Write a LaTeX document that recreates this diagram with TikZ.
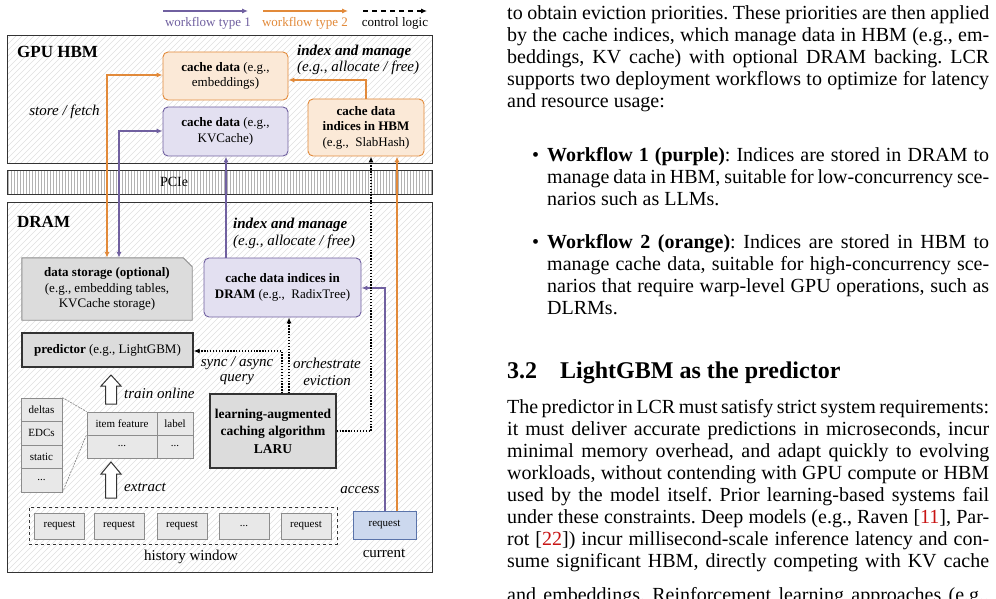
\documentclass[tikz,border=0pt]{standalone}
\usepackage{fontspec}
\setmainfont{Liberation Serif}
\usetikzlibrary{arrows.meta,calc}
\definecolor{purp}{RGB}{112,96,160}
\definecolor{purpL}{RGB}{227,224,241}
\definecolor{orng}{RGB}{226,138,58}
\definecolor{orngL}{RGB}{251,233,215}
\definecolor{greyF}{RGB}{220,220,220}
\definecolor{cellF}{RGB}{232,232,232}
\definecolor{curF}{RGB}{204,216,238}
\definecolor{curD}{RGB}{90,115,170}
\definecolor{citeC}{RGB}{200,20,20}
\newcommand\fsBox{\fontsize{13}{15.5}\selectfont}
\newcommand\fsLaru{\fontsize{13.5}{17.5}\selectfont}
\newcommand\fsLab{\fontsize{15}{17}\selectfont}
\newcommand\fsSmall{\fontsize{11}{13}\selectfont}
\newcommand\fsLeg{\fontsize{13}{15}\selectfont}
\newcommand\fsHead{\fontsize{17}{19}\selectfont}
\newcommand\fsBody{\fontsize{20}{22}\selectfont}
\newcommand\fsSec{\fontsize{24}{26}\selectfont}
\newcommand\jl[2]{\makebox[#1pt][s]{#2}}
\frenchspacing
\pgfdeclarelayer{hatchl}
\pgfdeclarelayer{bgl}
\pgfsetlayers{hatchl,bgl,main}
\begin{document}
\begin{tikzpicture}[x=1pt,y=-1pt,
  box/.style={rounded corners=5pt, line width=0.9pt, align=center, inner sep=1pt, font=\fsBox},
  obox/.style={box, draw=orng, fill=orngL},
  pbox/.style={box, draw=purp, fill=purpL},
  gbox/.style={draw=black!80, fill=greyF, line width=1.2pt, align=center, inner sep=1pt},
  cell/.style={draw=black!45, fill=cellF, line width=0.8pt, font=\fsSmall, inner sep=0pt},
  req/.style={cell, minimum width=50, minimum height=26},
  region/.style={draw=black!80, line width=1pt, inner sep=0pt},
  lab/.style={font=\fsLab\itshape, inner sep=0pt, align=center},
  parr/.style={draw=purp, line width=1.1pt},
  oarr/.style={draw=orng, line width=1.1pt},
  carr/.style={draw=black, line width=1.2pt, dash pattern=on 1.3pt off 1.6pt},
  tip/.style={-{Latex[length=6pt,width=5pt]}},
  tips/.style={{Latex[length=6pt,width=5pt]}-{Latex[length=6pt,width=5pt]}},
  hatch/.style={draw=black!12, line width=0.6pt},
  txt/.style={anchor=base west, inner sep=0pt, font=\fsBody},
  blk/.style={draw=black!80, fill=white, line width=1pt, line join=miter}
]
\useasboundingbox (0,0) rectangle (996,599);
\clip (0,0) rectangle (996,599);

% ---------- background and hatching ----------
\begin{pgfonlayer}{hatchl}
\fill[white] (0,0) rectangle (996,599);
\begin{scope}
  \clip (7,36) rectangle (432,164);
  \foreach \i in {-130,-124,...,435} \draw[hatch] (\i,164) -- ++(128,-128);
\end{scope}
\begin{scope}
  \clip (7,202) rectangle (432,572);
  \foreach \i in {-372,-366,...,435} \draw[hatch] (\i,572) -- ++(370,-370);
\end{scope}
\begin{scope}
  \clip (7,170) rectangle (432,194);
  \foreach \i in {8,11,...,432} \draw[draw=black!30, line width=0.5pt] (\i,170) -- (\i,194);
\end{scope}
\end{pgfonlayer}

% ---------- regions ----------
\node[region, minimum width=425, minimum height=128] (hbm) at (219.5,100) {};
\node[region, minimum width=425, minimum height=24] (pcie) at (219.5,182) {};
\node[region, minimum width=425, minimum height=370] (dram) at (219.5,387) {};
\node[font=\fontsize{14}{16}\selectfont, inner sep=0pt] (pcielab) at (174,182) {PCIe};
\node[anchor=west, font=\fsHead\bfseries, inner sep=0pt] (hbmlab) at (17,52) {GPU HBM};
\node[anchor=west, font=\fsHead\bfseries, inner sep=0pt] (dramlab) at (17,222) {DRAM};

% ---------- legend ----------
\coordinate (l1a) at (163,11); \coordinate (l1b) at (248,11);
\coordinate (l2a) at (263,11); \coordinate (l2b) at (348,11);
\coordinate (l3a) at (363,11); \coordinate (l3b) at (427,11);
\draw[parr, tip] (l1a) -- (l1b);
\draw[oarr, tip] (l2a) -- (l2b);
\draw[black, line width=1.1pt, dash pattern=on 5pt off 4pt, tip] (l3a) -- (l3b);
\node[font=\fsLeg, text=purp, inner sep=0pt] (leg1) at (208,23) {workflow type 1};
\node[font=\fsLeg, text=orng, inner sep=0pt] (leg2) at (305,23) {workflow type 2};
\node[font=\fsLeg, inner sep=0pt] (leg3) at (395,23) {control logic};

% ---------- HBM nodes ----------
\node[obox, minimum width=125, minimum height=48] (emb) at (225.5,76) {\textbf{cache data} (e.g.,\\embeddings)};
\node[pbox, minimum width=125, minimum height=49] (kv) at (225.5,131.5) {\textbf{cache data} (e.g.,\\KVCache)};
\node[obox, minimum width=116, minimum height=57] (hbmidx) at (366,127.5) {\textbf{cache data}\\\textbf{indices in HBM}\\(e.g.,\ \ SlabHash)};
\node[anchor=west, font=\fsLab\bfseries\itshape, inner sep=0pt] (im1) at (297,52) {index and manage};
\node[anchor=west, lab] (im1b) at (297,68) {(e.g., allocate / free)};
\node[lab] (sf) at (64.5,112) {store / fetch};

% ---------- DRAM nodes ----------
\node[anchor=west, font=\fsLab\bfseries\itshape, inner sep=0pt] (im2) at (233,225) {index and manage};
\node[anchor=west, lab] (im2b) at (233,242) {(e.g., allocate / free)};
\node[align=center, font=\fsBox, inner sep=0pt, minimum width=170, minimum height=62] (dstore) at (107,289)
  {\textbf{data storage (optional)}\\(e.g., embedding tables,\\KVCache storage)};
\begin{pgfonlayer}{bgl}
\draw[fill=greyF, draw=black!45, line width=0.9pt] (dstore.south west) -- (dstore.north west)
  -- ($(dstore.north east)+(-9,0)$) -- ($(dstore.north east)+(0,9)$) -- (dstore.south east) -- cycle;
\end{pgfonlayer}
\node[pbox, minimum width=157, minimum height=59] (dramidx) at (282.5,287.5) {\textbf{cache data indices in}\\\textbf{DRAM} (e.g.,\ \ RadixTree)};
\node[gbox, minimum width=171, minimum height=34, font=\fsBox] (pred) at (107.5,350) {\textbf{predictor} (e.g., LightGBM)};
\node[gbox, minimum width=126, minimum height=74, font=\fsLaru\bfseries] (laru) at (273,431) {learning-augmented\\caching algorithm\\LARU};
\node[lab] (sq1) at (237,363) {sync / async};
\node[lab] (sq2) at (237,380) {query};
\node[lab] (oe1) at (327,363) {orchestrate};
\node[lab] (oe2) at (327,381) {eviction};

% feature stack
\node[cell, minimum width=41, minimum height=23.5] (s1) at (41.5,409.75) {deltas};
\node[cell, minimum width=41, minimum height=23.5] (s2) at (41.5,433.25) {EDCs};
\node[cell, minimum width=41, minimum height=23.5] (s3) at (41.5,456.75) {static};
\node[cell, minimum width=41, minimum height=23.5] (s4) at (41.5,480.25) {...};
% table
\node[cell, minimum width=70, minimum height=23] (f1) at (122,423.5) {item feature};
\node[cell, minimum width=36, minimum height=23] (g1) at (175,423.5) {label};
\node[cell, minimum width=70, minimum height=23] (f2) at (122,446.5) {...};
\node[cell, minimum width=36, minimum height=23] (g2) at (175,446.5) {...};
\draw[black!50, line width=0.6pt, dash pattern=on 2pt off 1pt] (s1.north east) -- (f1.north west);
\draw[black!50, line width=0.6pt, dash pattern=on 2pt off 1pt] (s4.south east) -- (f2.north west);

% block arrows
\draw[blk] (105.5,404) -- (105.5,386) -- (101,386) -- (111,375) -- (121,386) -- (116.5,386) -- (116.5,404) -- cycle;
\draw[blk] (105.5,498) -- (105.5,474) -- (101,474) -- (111,462) -- (121,474) -- (116.5,474) -- (116.5,498) -- cycle;
\node[lab, anchor=west] (tro) at (124,393) {train online};
\node[lab, anchor=west] (ext) at (124,487) {extract};

% history window
\node[draw=black!80, dashed, line width=0.9pt, minimum width=308, minimum height=37, inner sep=0pt] (hist) at (183,525.5) {};
\node[req] (r1) at (59.5,526) {request};
\node[req] (r2) at (119,526) {request};
\node[req] (r3) at (182,526) {request};
\node[req] (r4) at (244,526) {...};
\node[req] (r5) at (306,526) {request};
\node[font=\fsLab, inner sep=0pt] (hw) at (191,557) {history window};
\node[draw=curD, fill=curF, line width=0.9pt, minimum width=63, minimum height=28, font=\fsSmall, inner sep=0pt] (cur) at (384.5,525) {request};
\node[font=\fsLab, inner sep=0pt] (curlab) at (384,553) {current};
\node[lab] (acc) at (360,490) {access};

% ---------- connectors ----------
\coordinate (o1) at (107,75);
\coordinate (p1) at (119,131);
\draw[oarr, tips] (dstore.north -| o1) -- (o1) -- (emb.west |- o1);
\draw[parr, tips] (dstore.north -| p1) -- (p1) -- (kv.west |- p1);
\coordinate (o2) at (366,80);
\draw[oarr, tip] (hbmidx.north) -- (o2) -- (emb.east |- o2);
\coordinate (p2) at (226,200);
\draw[parr, tip] (dramidx.north -| p2) -- (kv.south -| p2);
\coordinate (p3) at (385,288);
\draw[parr, tip] (cur.north -| p3) -- (p3) -- (dramidx.east |- p3);
\coordinate (o3) at (397,300);
\draw[oarr, tip] (cur.north -| o3) -- (hbmidx.south -| o3);
\coordinate (c1) at (371,431);
\draw[carr, tip] (laru.east) -- (c1) -- (hbmidx.south -| c1);
\coordinate (c2) at (282,351);
\draw[carr, tip] (laru.north -| c2) -- (c2) -- (pred.east |- c2);
\coordinate (c3) at (289,380);
\draw[carr, tip] (laru.north -| c3) -- (dramidx.south -| c3);

% ---------- right column text ----------
\node[txt] (t1) at (507,19.5) {\jl{482}{to obtain eviction priorities. These priorities are then applied}};
\node[txt] (t2) at (507,41.5) {\jl{482}{by the cache indices, which manage data in HBM (e.g., em-}};
\node[txt] (t3) at (507,63.5) {\jl{482}{beddings, KV cache) with optional DRAM backing. LCR}};
\node[txt] (t4) at (507,85.5) {\jl{482}{supports two deployment workflows to optimize for latency}};
\node[txt] (t5) at (507,107.5) {and resource usage:};

\node[txt] (b1) at (532,161.5) {\textbullet};
\node[txt] (u1) at (547,161.5) {\jl{442}{\textbf{Workflow 1 (purple)}: Indices are stored in DRAM to}};
\node[txt] (u2) at (547,183.5) {\jl{442}{manage data in HBM, suitable for low-concurrency sce-}};
\node[txt] (u3) at (547,205.5) {narios such as LLMs.};
\node[txt] (b2) at (532,248) {\textbullet};
\node[txt] (v1) at (547,248) {\jl{442}{\textbf{Workflow 2 (orange)}: Indices are stored in HBM to}};
\node[txt] (v2) at (547,270) {\jl{442}{manage cache data, suitable for high-concurrency sce-}};
\node[txt] (v3) at (547,292) {\jl{442}{narios that require warp-level GPU operations, such as}};
\node[txt] (v4) at (547,314) {DLRMs.};

\node[txt, font=\fsSec\bfseries] (sec1) at (507,378) {3.2};
\node[txt, font=\fsSec\bfseries] (sec2) at (560,378) {LightGBM as the predictor};

\node[txt] (q1) at (507,413) {\jl{482}{The predictor in LCR must satisfy strict system requirements:}};
\node[txt] (q2) at (507,435) {\jl{482}{it must deliver accurate predictions in microseconds, incur}};
\node[txt] (q3) at (507,457) {\jl{482}{minimal memory overhead, and adapt quickly to evolving}};
\node[txt] (q4) at (507,479) {\jl{482}{workloads, without contending with GPU compute or HBM}};
\node[txt] (q5) at (507,501) {\jl{482}{used by the model itself. Prior learning-based systems fail}};
\node[txt] (q6) at (507,523) {\jl{482}{under these constraints. Deep models (e.g., Raven [\textcolor{citeC}{11}], Par-}};
\node[txt] (q7) at (507,545) {\jl{482}{rot [\textcolor{citeC}{22}]) incur millisecond-scale inference latency and con-}};
\node[txt] (q8) at (507,567) {\jl{482}{sume significant HBM, directly competing with KV cache}};
\node[txt] (q9) at (507,601) {\jl{482}{and embeddings. Reinforcement learning approaches (e.g.,}};
\end{tikzpicture}
\end{document}
